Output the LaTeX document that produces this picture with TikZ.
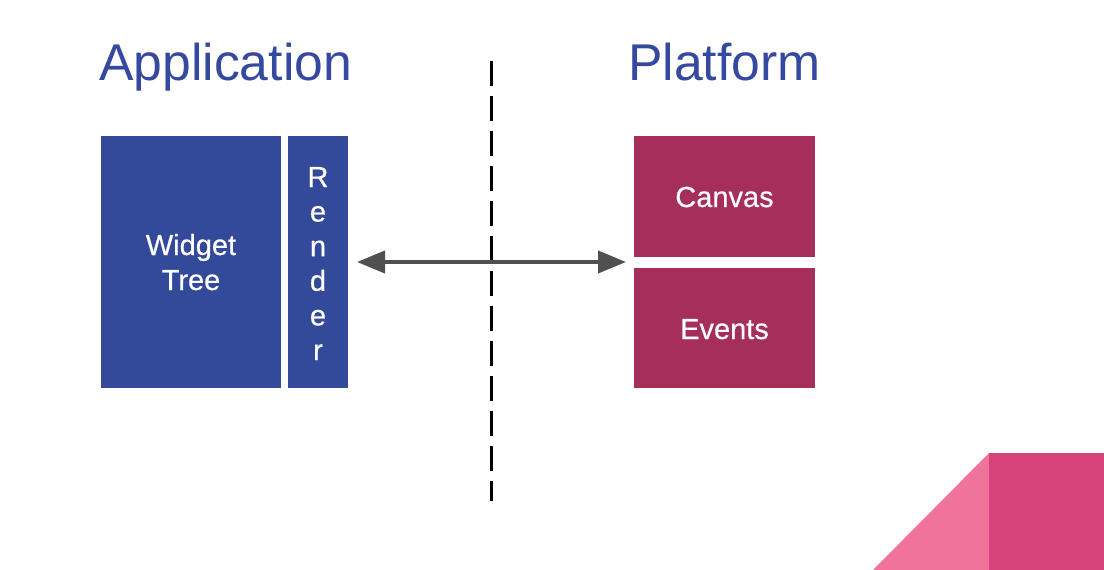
\documentclass[tikz,border=0pt]{standalone}
\usepackage{fontspec}
\setmainfont{Liberation Sans}
\newfontfamily\boxfont{Liberation Sans}[BoldFont={Liberation Sans}, BoldFeatures={FakeBold=0.5}]
\usetikzlibrary{arrows.meta}
\definecolor{appblue}{HTML}{334999}
\definecolor{titleblue}{HTML}{3649A0}
\definecolor{platred}{HTML}{A52F5A}
\definecolor{arrowgray}{HTML}{505050}
\definecolor{pinklight}{HTML}{F0739C}
\definecolor{pinkdark}{HTML}{D6437A}
\tikzset{
  box/.style={draw=none, inner sep=0pt, outer sep=0pt},
  boxtext/.style={text=white, font=\boxfont\bfseries\fontsize{29}{35}\selectfont, inner sep=0pt},
  titletext/.style={text=titleblue, font=\fontsize{51.7}{56}\selectfont, inner sep=0pt, anchor=base west},
  divider/.style={black, line width=3pt, dash pattern=on 25pt off 10pt},
  link/.style={arrowgray, line width=4pt, {Triangle[length=28pt,width=22pt]}-{Triangle[length=28pt,width=22pt]}, shorten <=0pt, shorten >=0pt}
}
\begin{document}
\begin{tikzpicture}[x=1pt,y=-1pt]
\useasboundingbox (0,0) rectangle (1104,570);
% corner decoration
\fill[pinklight] (873,570) -- (989,453) -- (989,570) -- cycle;
\fill[pinkdark] (989,453) rectangle (1104,570);
% titles
\node[titletext] (apptitle) at (99,80) {Application};
\node[titletext] (plattitle) at (628,80) {Platform};
% boxes
\node[box, fill=appblue, minimum width=180pt, minimum height=252pt] (widget) at (191,262) {};
\node[box, fill=appblue, minimum width=60pt, minimum height=252pt] (render) at (318,262) {};
\node[box, fill=platred, minimum width=181pt, minimum height=121pt] (canvas) at (724.5,196.5) {};
\node[box, fill=platred, minimum width=181pt, minimum height=120pt] (events) at (724.5,328) {};
% box texts
\node[boxtext, anchor=base] (w1) at (191,255) {Widget};
\node[boxtext, anchor=base] (w2) at (191,290) {Tree};
\node[boxtext, anchor=base] (ctext) at (724.5,207) {Canvas};
\node[boxtext, anchor=base] (etext) at (724.5,339) {Events};
\node[boxtext, anchor=base] (r1) at (318,187) {R};
\node[boxtext, anchor=base] (r2) at (318,221.6) {e};
\node[boxtext, anchor=base] (r3) at (318,256.2) {n};
\node[boxtext, anchor=base] (r4) at (318,290.8) {d};
\node[boxtext, anchor=base] (r5) at (318,325.4) {e};
\node[boxtext, anchor=base] (r6) at (318,360) {r};
% divider
\coordinate (dtop) at (491,60.5);
\coordinate (dbot) at (491,501);
\draw[divider] (dtop) -- (dbot);
% arrow
\coordinate (aleft) at (357,262);
\coordinate (aright) at (626,262);
\draw[link] (aleft) -- (aright);
\end{tikzpicture}
\end{document}
